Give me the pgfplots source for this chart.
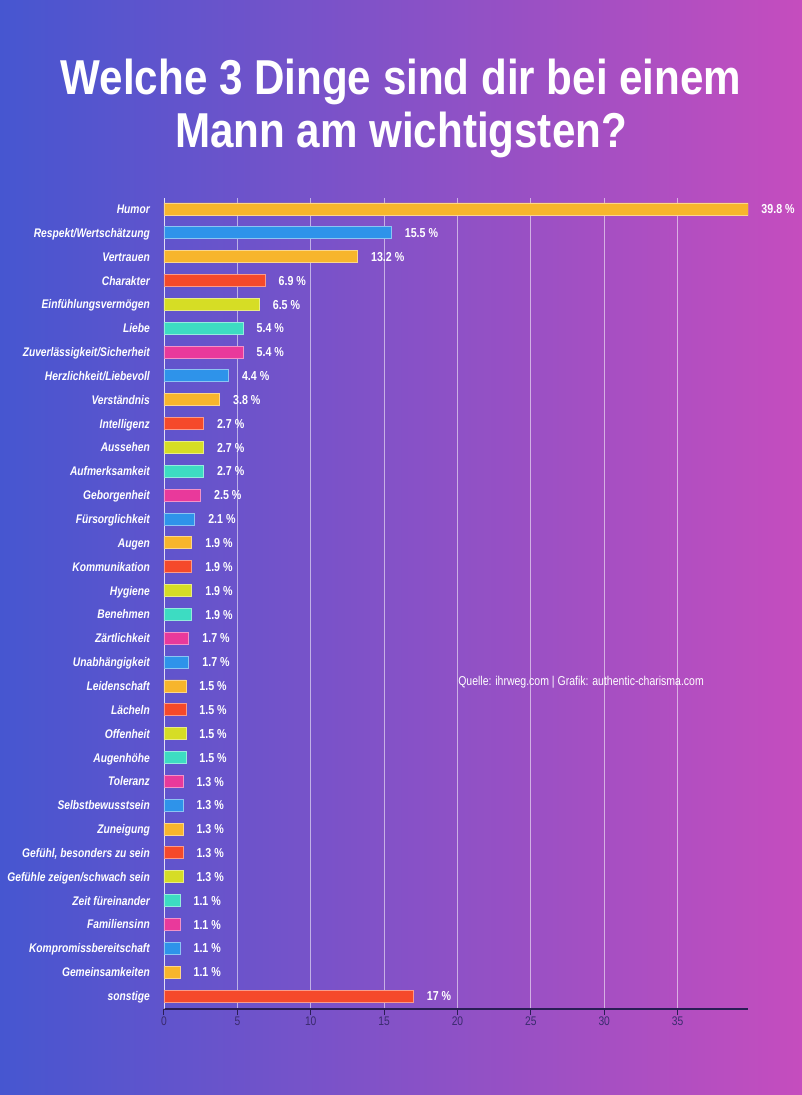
\documentclass[border=0pt]{standalone}
\usepackage{pgfplots}
\pgfplotsset{compat=1.18}
\usepackage{fontspec}
\setmainfont{Liberation Sans}[FakeStretch=0.82]
\newfontfamily\titlefont{Liberation Sans}[FakeStretch=0.86]
\definecolor{cOr}{HTML}{F7B52C}
\definecolor{cBl}{HTML}{2E93EA}
\definecolor{cRd}{HTML}{F5492A}
\definecolor{cYg}{HTML}{D6DD25}
\definecolor{cTe}{HTML}{3DDCC2}
\definecolor{cPk}{HTML}{E9399B}
\definecolor{bgL}{HTML}{4656D0}
\definecolor{bgM}{HTML}{8552C8}
\definecolor{bgR}{HTML}{C54DBE}
\definecolor{axdark}{HTML}{2A1E55}
\definecolor{ticktxt}{HTML}{3A2B6E}
\pgfplotsset{
  mybar/.style={fill=#1, draw=white!45!#1, line width=0.9pt},
}
\begin{document}
\begin{tikzpicture}[x=1pt,y=1pt]
\shade[left color=bgL, middle color=bgM, right color=bgR] (0,0) rectangle (802,1095);
\useasboundingbox (0,0) rectangle (802,1095);
\node[anchor=base, text=white, font=\titlefont\bfseries\fontsize{49}{49}\selectfont, inner sep=0pt] at (401,1000) {Welche 3 Dinge sind dir bei einem};
\node[anchor=base, text=white, font=\titlefont\bfseries\fontsize{49}{49}\selectfont, inner sep=0pt] at (401,947) {Mann am wichtigsten?};
\begin{axis}[
  at={(164pt,86pt)}, anchor=south west,
  scale only axis, width=584pt, height=811pt,
  xbar, bar width=12pt, bar shift=0pt,
  xmin=0, xmax=39.8, ymin=-0.545, ymax=33.46,
  enlargelimits=false,
  /pgf/number format/assume math mode=true,
  axis x line*=bottom, axis y line*=left,
  x axis line style={draw=axdark, line width=1.3pt, -},
  y axis line style={draw=white, draw opacity=0.6, line width=0.8pt, -},
  xtick={0,5,...,35},
  tick align=outside,
  major tick length=6pt,
  xtick style={draw=axdark, line width=1pt},
  ytick style={draw=none},
  xmajorgrids,
  grid style={draw=white, draw opacity=0.55, line width=0.8pt},
  xticklabel style={text=ticktxt, font=\fontsize{12.5}{12.5}\selectfont, inner sep=1pt, yshift=-1pt},
  ytick={0,...,33},
  yticklabels={sonstige, Gemeinsamkeiten, Kompromissbereitschaft, Familiensinn, Zeit füreinander, Gefühle zeigen/schwach sein, {Gefühl, besonders zu sein}, Zuneigung, Selbstbewusstsein, Toleranz, Augenhöhe, Offenheit, Lächeln, Leidenschaft, Unabhängigkeit, Zärtlichkeit, Benehmen, Hygiene, Kommunikation, Augen, Fürsorglichkeit, Geborgenheit, Aufmerksamkeit, Aussehen, Intelligenz, Verständnis, Herzlichkeit/Liebevoll, Zuverlässigkeit/Sicherheit, Liebe, Einfühlungsvermögen, Charakter, Vertrauen, Respekt/Wertschätzung, Humor},
  yticklabel style={text=white, font=\bfseries\itshape\fontsize{12.5}{12.5}\selectfont, inner sep=0pt, xshift=-8pt, anchor=east, text height=9pt, text depth=0pt},
  point meta=x,
  nodes near coords={\pgfmathprintnumber[fixed,precision=1]{\pgfplotspointmeta} \%},
  nodes near coords style={text=white, font=\bfseries\fontsize{13}{13}\selectfont, anchor=west, inner sep=0pt, xshift=13pt, text height=9.3pt, text depth=0pt},
]
\addplot[mybar=cOr] coordinates {(39.8,33) (13.2,31) (3.8,25) (1.9,19) (1.5,13) (1.3,7) (1.1,1)};
\addplot[mybar=cBl] coordinates {(15.5,32) (4.4,26) (2.1,20) (1.7,14) (1.3,8) (1.1,2)};
\addplot[mybar=cRd] coordinates {(6.9,30) (2.7,24) (1.9,18) (1.5,12) (1.3,6) (17,0)};
\addplot[mybar=cYg] coordinates {(6.5,29) (2.7,23) (1.9,17) (1.5,11) (1.3,5)};
\addplot[mybar=cTe] coordinates {(5.4,28) (2.7,22) (1.9,16) (1.5,10) (1.1,4)};
\addplot[mybar=cPk] coordinates {(5.4,27) (2.5,21) (1.7,15) (1.3,9) (1.1,3)};
\node[anchor=west, inner sep=0pt, text=white, font=\fontsize{12.8}{12.8}\selectfont] at (axis cs:20.04,13.17) {Quelle: ihrweg.com | Grafik: authentic-charisma.com};
\end{axis}
\end{tikzpicture}
\end{document}
